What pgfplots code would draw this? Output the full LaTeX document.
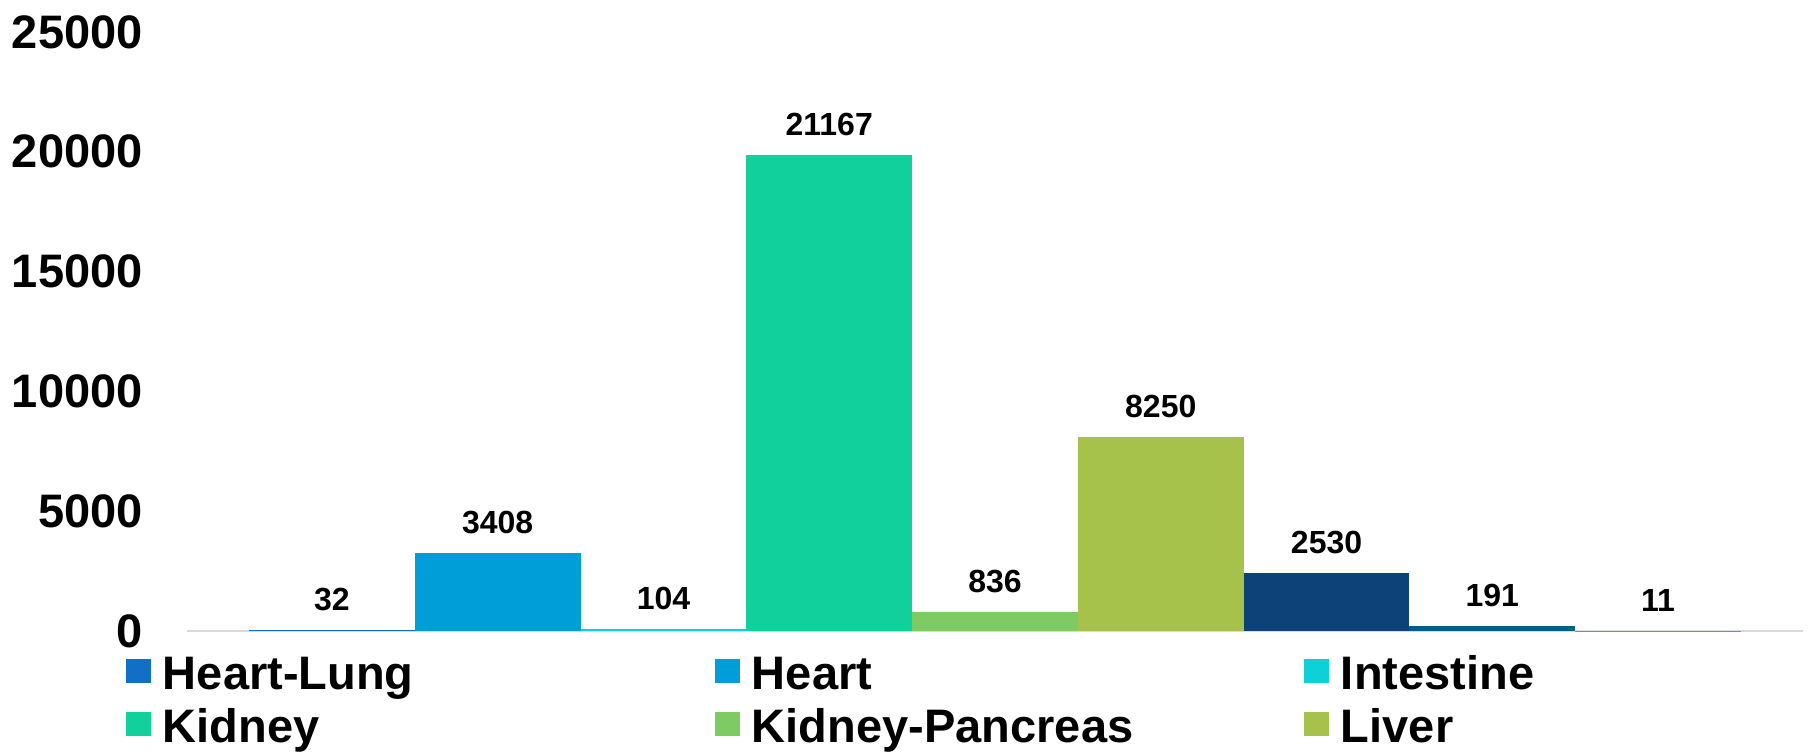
\documentclass[border=0pt]{standalone}
\usepackage{fontspec}
\setmainfont{Liberation Sans}
\usepackage{pgfplots}
\pgfplotsset{compat=1.18}
\definecolor{cHL}{HTML}{1170C6}
\definecolor{cHe}{HTML}{009ED8}
\definecolor{cIn}{HTML}{0ED0D8}
\definecolor{cKi}{HTML}{12D09C}
\definecolor{cKP}{HTML}{7DCB62}
\definecolor{cLi}{HTML}{A6C24A}
\definecolor{cLu}{HTML}{0C4278}
\definecolor{cPa}{HTML}{005F82}
\definecolor{cXX}{HTML}{4A9FD8}
\definecolor{axgray}{HTML}{D9D9D9}
\newcommand\lstrut{\rule[-5pt]{0pt}{25pt}}
\begin{document}
\begin{tikzpicture}
\useasboundingbox (0,0) rectangle (905pt,375.5pt);
\begin{axis}[
  at={(93.5pt,60pt)}, anchor=south west,
  width=808pt, height=299.5pt, scale only axis,
  xmin=0.126, xmax=9.874, ymin=0, ymax=25000,
  ybar, bar width=1, bar shift=0pt,
  axis x line*=bottom, axis y line*=left,
  x axis line style={draw=axgray, line width=1pt, -},
  y axis line style={draw=none},
  xtick=\empty,
  ytick={0,5000,10000,15000,20000,25000},
  major tick length=0pt,
  ytick style={draw=none},
  scaled y ticks=false,
  yticklabel style={/pgf/number format/1000 sep={}, /pgf/number format/assume math mode=true,
    font=\fontsize{23.5}{28}\selectfont\bfseries, anchor=east, inner sep=0pt, xshift=-22pt},
  point meta=explicit symbolic,
  nodes near coords={\pgfplotspointmeta},
  every node near coord/.append style={font=\fontsize{16}{19}\selectfont\bfseries, anchor=south, inner sep=0pt, yshift=9.5pt, text=black},
  legend columns=3,
  legend cell align=left,
  legend image code/.code={\fill[#1] (0pt,-6pt) rectangle (12.5pt,6pt);},
  legend style={at={(-0.03775,-0.0317)}, anchor=north west, draw=none, fill=none,
    inner sep=0pt, outer sep=0pt, row sep=5pt,
    font=\fontsize{23.5}{28}\selectfont\bfseries,
    /tikz/every odd column/.append style={column sep=6pt},
    nodes={inner sep=0pt, outer sep=0pt}},
]
\addplot[fill=cHL, draw=none] coordinates {(1,30) [32]};
\addlegendentry{\makebox[276pt][l]{\lstrut Heart-Lung}}
\addplot[fill=cHe, draw=none] coordinates {(2,3255) [3408]};
\addlegendentry{\makebox[276pt][l]{\lstrut Heart}}
\addplot[fill=cIn, draw=none] coordinates {(3,80) [104]};
\addlegendentry{\makebox[276pt][l]{\lstrut Intestine}}
\addplot[fill=cKi, draw=none] coordinates {(4,19866) [21167]};
\addlegendentry{\makebox[276pt][l]{\lstrut Kidney}}
\addplot[fill=cKP, draw=none] coordinates {(5,793) [836]};
\addlegendentry{\makebox[276pt][l]{\lstrut Kidney-Pancreas}}
\addplot[fill=cLi, draw=none] coordinates {(6,8097) [8250]};
\addlegendentry{\makebox[276pt][l]{\lstrut Liver}}
\addplot[fill=cLu, draw=none, forget plot] coordinates {(7,2421) [2530]};
\addplot[fill=cPa, draw=none, forget plot] coordinates {(8,200) [191]};
\addplot[fill=cXX, draw=none, forget plot] coordinates {(9,10) [11]};
\end{axis}
\end{tikzpicture}
\end{document}
